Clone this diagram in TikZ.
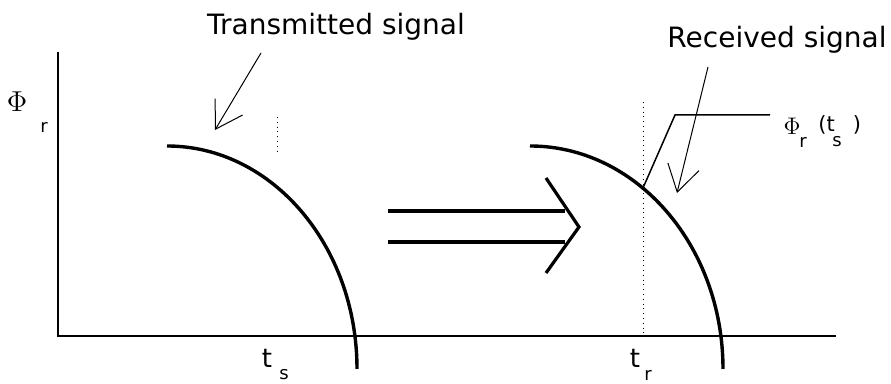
\documentclass[tikz,border=0pt]{standalone}
\usepackage{fontspec}
\setmainfont{DejaVu Sans}
\usetikzlibrary{arrows.meta}

\begin{document}
\begin{tikzpicture}[x=0.5pt, y=0.5pt,
    axis/.style={line width=1.1pt},
    curve/.style={line width=1.7pt},
    guide/.style={dotted, line width=0.4pt},
    pointer/.style={-{Straight Barb[length=13pt, width=16pt]}, line width=0.5pt},
    shiftline/.style={line width=1.6pt},
    lbl/.style={inner sep=0pt, font=\fontsize{14}{16}\selectfont},
    big/.style={inner sep=0pt, font=\fontsize{13}{15}\selectfont},
    mid/.style={inner sep=0pt, font=\fontsize{10.5}{12}\selectfont},
    sub/.style={inner sep=0pt, font=\fontsize{9}{10}\selectfont}]

  \useasboundingbox (0,0) rectangle (891,384);

  % axes
  \coordinate (o) at (58,48);
  \coordinate (ytop) at (58,332);
  \coordinate (xend) at (836,48);
  \draw[axis] (ytop) -- (o) -- (xend);

  % the two signals
  \coordinate (tx) at (167,238);
  \coordinate (rx) at (530,238);
  \draw[curve] (tx) arc[start angle=90, end angle=0, x radius=190, y radius=223];
  \draw[curve] (rx) arc[start angle=90, end angle=0, x radius=193, y radius=223];

  % dotted marks
  \coordinate (txdot1) at (277,267);
  \coordinate (txdot2) at (277,231);
  \coordinate (rxdot1) at (643,282);
  \coordinate (rxdot2) at (643,48);
  \draw[guide] (txdot1) -- (txdot2);
  \draw[guide] (rxdot1) -- (rxdot2);

  % labels
  \node[lbl, anchor=base] (txlabel) at (336,349) {Transmitted signal};
  \node[lbl, anchor=base east] (rxlabel) at (887,336) {Received signal};

  \node[inner sep=0pt, font=\fontsize{15}{17}\selectfont] (phi) at (17,282) {$\Phi$};
  \node[sub] (phir) at (44,257) {r};

  \node[inner sep=0pt, font=\fontsize{12}{14}\selectfont] (phits) at (792,258) {$\Phi$};
  \node[sub] (phitsr) at (803,242) {r};
  \node[mid, anchor=west] (phitsl) at (818,259) {(t};
  \node[sub] (phitss) at (837,242) {s};
  \node[mid] (phitsp) at (857,259) {)};

  \node[big] (ts) at (267,26) {t};
  \node[sub] (tss) at (284,9) {s};
  \node[big] (tr) at (635,26) {t};
  \node[sub] (trr) at (648,9) {r};

  % pointers
  \coordinate (txfrom) at (261,331);
  \coordinate (txto) at (215,254);
  \coordinate (rxfrom) at (708,317);
  \coordinate (rxto) at (677,191);
  \draw[pointer] (txfrom) -- (txto);
  \draw[pointer] (rxfrom) -- (rxto);

  % leader for the value
  \coordinate (hit) at (643,196);
  \coordinate (knee) at (675,269);
  \coordinate (leadend) at (770,269);
  \draw[line width=0.75pt] (hit) -- (knee) -- (leadend);

  % big arrow
  \coordinate (a1) at (388,173);
  \coordinate (a2) at (565,173);
  \coordinate (b1) at (388,142);
  \coordinate (b2) at (565,142);
  \coordinate (c1) at (546,206);
  \coordinate (c2) at (579,157);
  \coordinate (c3) at (546,111);
  \draw[shiftline] (a1) -- (a2);
  \draw[shiftline] (b1) -- (b2);
  \draw[shiftline] (c1) -- (c2) -- (c3);
\end{tikzpicture}
\end{document}
